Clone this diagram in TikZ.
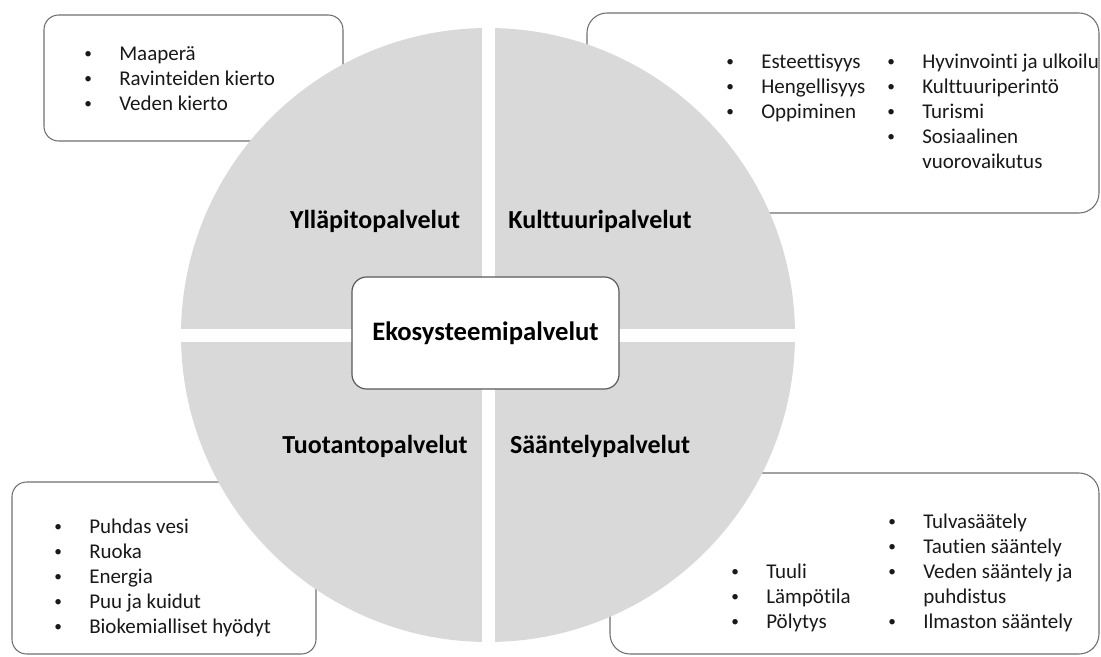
\documentclass[tikz,border=0pt]{standalone}
\usepackage{fontspec}
\setmainfont{Carlito}[Ligatures=NoCommon]
\definecolor{quadgray}{HTML}{D9D9D9}
\definecolor{boxgray}{HTML}{707070}
\definecolor{hubgray}{HTML}{595959}
\newcommand\bitem[1]{\makebox[0pt][c]{\raisebox{1.4pt}{\fontsize{11.5}{12}\selectfont •}}\hspace{23.25pt}#1}
\newcommand\cont[1]{\hspace*{23.25pt}#1}
\begin{document}
\begin{tikzpicture}[x=0.75pt,y=-0.75pt,
  panel/.style={draw=boxgray, line width=0.8pt, rounded corners=11pt, fill=white},
  bigpanel/.style={panel, rounded corners=15pt},
  quad/.style={fill=quadgray},
  lst/.style={anchor=base west, inner sep=0pt, text=black!90, font=\fontsize{15.75}{18.75}\selectfont},
  qlabel/.style={anchor=base, inner sep=0pt, font=\bfseries\fontsize{19.5}{23}\selectfont},
  hub/.style={draw=hubgray, line width=0.9pt, fill=white, rounded corners=11pt,
    minimum width=200.25pt, minimum height=84pt, inner sep=0pt,
    font=\bfseries\fontsize{20}{24}\selectfont}]
\useasboundingbox (0,0) rectangle (1101,657);
% outer panels
\draw[panel] (44,15) rectangle (343,141);
\draw[bigpanel] (587,13) rectangle (1099,213);
\draw[panel] (12,482) rectangle (316,654);
\draw[bigpanel] (610,473) rectangle (1099,654);
% circle quadrants
\begin{scope}
  \clip (488,335) circle[radius=230.25pt];
  \fill[quad] (150,0) rectangle (481.5,328.5);
  \fill[quad] (494.5,0) rectangle (820,328.5);
  \fill[quad] (150,341.5) rectangle (481.5,660);
  \fill[quad] (494.5,341.5) rectangle (820,660);
\end{scope}
% quadrant labels
\node[qlabel] (yll) at (375,228) {Ylläpitopalvelut};
\node[qlabel] (kul) at (600,228) {Kulttuuripalvelut};
\node[qlabel] (tuo) at (375,453) {Tuotantopalvelut};
\node[qlabel] (saa) at (600,453) {Sääntelypalvelut};
% hub
\node[hub] (eko) at (485.5,333) {\raisebox{-2pt}{Ekosysteemipalvelut}};
% lists
\node[lst] (tl) at (88,60) {\begin{tabular}[t]{@{}l@{}}
  \bitem{Maaperä}\\ \bitem{Ravinteiden kierto}\\ \bitem{Veden kierto}\end{tabular}};
\node[lst] (tra) at (730,68) {\begin{tabular}[t]{@{}l@{}}
  \bitem{Esteettisyys}\\ \bitem{Hengellisyys}\\ \bitem{Oppiminen}\end{tabular}};
\node[lst] (trb) at (891,68) {\begin{tabular}[t]{@{}l@{}}
  \bitem{Hyvinvointi ja ulkoilu}\\ \bitem{Kulttuuriperintö}\\ \bitem{Turismi}\\
  \bitem{Sosiaalinen}\\ \cont{vuorovaikutus}\end{tabular}};
\node[lst] (bl) at (58,533) {\begin{tabular}[t]{@{}l@{}}
  \bitem{Puhdas vesi}\\ \bitem{Ruoka}\\ \bitem{Energia}\\ \bitem{Puu ja kuidut}\\
  \bitem{Biokemialliset hyödyt}\end{tabular}};
\node[lst] (bra) at (735,578) {\begin{tabular}[t]{@{}l@{}}
  \bitem{Tuuli}\\ \bitem{Lämpötila}\\ \bitem{Pölytys}\end{tabular}};
\node[lst] (brb) at (892,528) {\begin{tabular}[t]{@{}l@{}}
  \bitem{Tulvasäätely}\\ \bitem{Tautien sääntely}\\ \bitem{Veden sääntely ja}\\
  \cont{puhdistus}\\ \bitem{Ilmaston sääntely}\end{tabular}};
\end{tikzpicture}
\end{document}
